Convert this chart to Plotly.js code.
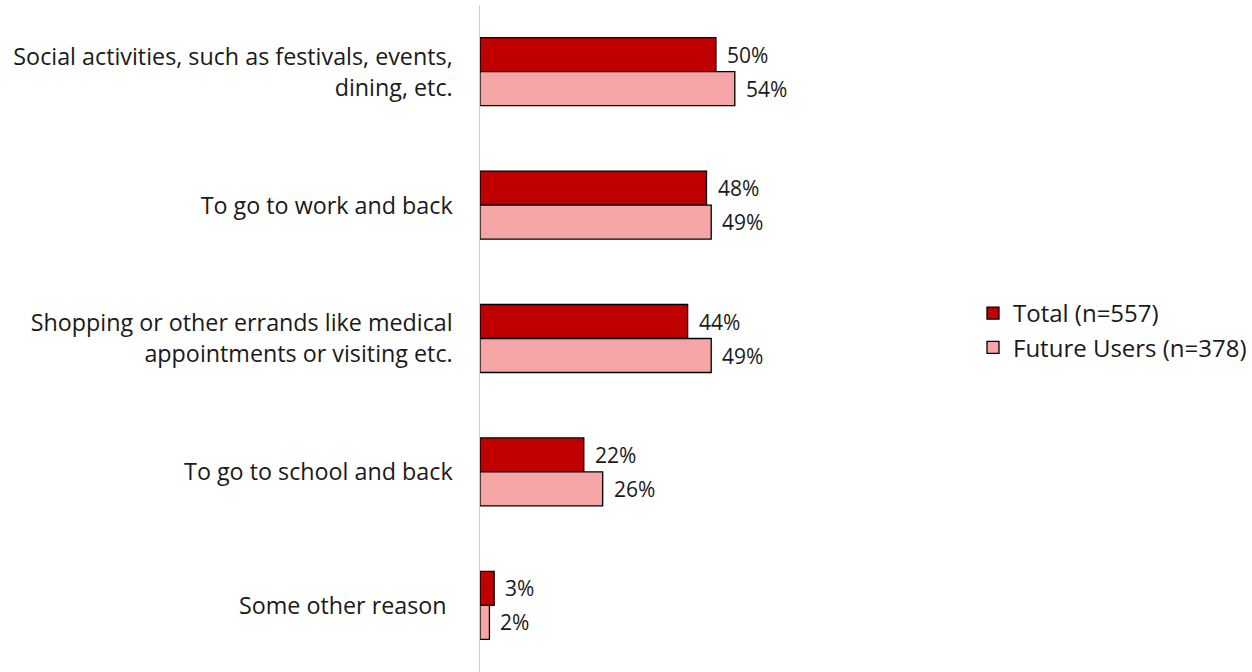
<!DOCTYPE html>
<html><head><meta charset="utf-8">
<script src="https://cdn.plot.ly/plotly-3.0.1.min.js"></script>
<style>body{margin:0;background:#fff}#c{width:1252px;height:672px}</style>
</head><body><div id="c"></div>
<script>
const categories = [
  "Social activities, such as festivals, events,<br>dining, etc.",
  "To go to work and back",
  "Shopping or other errands like medical<br>appointments or visiting etc.",
  "To go to school and back",
  "Some other reason "
];
const seriesNames = ["Total (n=557)", "Future Users (n=378)"];
const totalValues = [50, 48, 44, 22, 3];
const futureValues = [54, 49, 49, 26, 2];
const colors = ["#C00000", "#F6A5A7"];
const fontFam = "'Open Sans', sans-serif";
const catFs = 23.3;
const valFs = 21;
const txtColor = '#1a1a1a';

const tickText = categories.map(c => c.split('<br>')
  .map(line => `<span style="font-size:${catFs}px">${line}</span>`).join('<br>'));

const traces = [totalValues, futureValues].map((vals, i) => ({
  type: 'bar', orientation: 'h', name: seriesNames[i], legendgroup: 'g' + i,
  y: categories, x: vals,
  marker: {color: colors[i], line: {color: '#000', width: 1.3}},
  hoverinfo: 'skip'
}));

const annotations = [];
[totalValues, futureValues].forEach((vals, i) => {
  vals.forEach((v, j) => {
    annotations.push({
      x: v, y: categories[j], xref: 'x', yref: 'y',
      text: v + '%', showarrow: false, xanchor: 'left',
      xshift: 9, yshift: i === 0 ? 17 : -17,
      font: {family: fontFam, size: valFs, color: txtColor}
    });
  });
});

const layout = {
  width: 1252, height: 672,
  margin: {l: 480, r: 0, t: 5, b: 0},
  barmode: 'group', bargap: 0.49, bargroupgap: 0,
  paper_bgcolor: '#fff', plot_bgcolor: 'rgba(0,0,0,0)',
  font: {family: fontFam, size: catFs, color: txtColor},
  xaxis: {range: [0, 163.6], showgrid: false, zeroline: false, showticklabels: false, showline: false},
  yaxis: {autorange: 'reversed', showgrid: false, zeroline: false, showline: true,
          linecolor: '#d0d0d0', linewidth: 1.5, ticks: '', ticklabelstandoff: 21,
          tickmode: 'array', tickvals: categories, ticktext: tickText,
          tickfont: {family: fontFam, size: 24, color: txtColor}},
  legend: {x: 1, y: 0.512, xanchor: 'right', yanchor: 'middle', traceorder: 'grouped',
           tracegroupgap: 0, bgcolor: 'rgba(0,0,0,0)',
           font: {family: fontFam, size: 24, color: txtColor}, itemwidth: 30},
  annotations: annotations,
  showlegend: true
};
Plotly.newPlot('c', traces, layout, {staticPlot: true});
</script></body></html>
